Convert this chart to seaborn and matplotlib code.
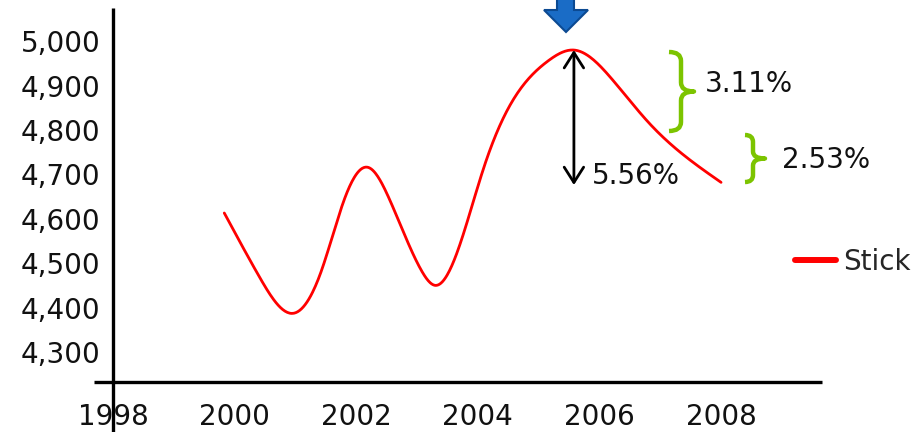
import numpy as np
import pandas as pd
import matplotlib
matplotlib.use("Agg")
import matplotlib.pyplot as plt
import matplotlib.transforms as mtransforms
from matplotlib.path import Path
from matplotlib.patches import PathPatch, Polygon
from matplotlib.ticker import FuncFormatter
import seaborn as sns

# Series knots (year, value) along the "Stick" curve
years = [1999.83, 2000.40, 2000.96, 2001.42, 2001.80, 2002.19, 2002.54, 2003.07,
         2003.30, 2003.69, 2004.10, 2004.53, 2005.15, 2005.58, 2006.19, 2006.80,
         2007.56, 2008.00]
values = [4613, 4471, 4387, 4480, 4642, 4716, 4646, 4484,
          4450, 4536, 4716, 4856, 4955, 4980, 4917, 4818,
          4725, 4682]
series_name = "Stick"

x_ticks = [1998, 2000, 2002, 2004, 2006, 2008]
y_ticks = [4300, 4400, 4500, 4600, 4700, 4800, 4900, 5000]

drop_labels = ["5.56%", "3.11%", "2.53%"]


def spline_curve(xs, ys, n=30):
    """Natural cubic spline through the knots, for a smooth drawn line."""
    x = np.asarray(xs, float)
    y = np.asarray(ys, float)
    m = len(x)
    h = np.diff(x)
    A = np.zeros((m, m))
    b = np.zeros(m)
    A[0, 0] = A[-1, -1] = 1.0
    for i in range(1, m - 1):
        A[i, i - 1] = h[i - 1]
        A[i, i] = 2 * (h[i - 1] + h[i])
        A[i, i + 1] = h[i]
        b[i] = 6 * ((y[i + 1] - y[i]) / h[i] - (y[i] - y[i - 1]) / h[i - 1])
    M = np.linalg.solve(A, b)
    ox, oy = [], []
    for i in range(m - 1):
        t = np.linspace(x[i], x[i + 1], n, endpoint=False)
        a = x[i + 1] - t
        c = t - x[i]
        s = (M[i] * a ** 3 + M[i + 1] * c ** 3) / (6 * h[i]) \
            + (y[i] / h[i] - M[i] * h[i] / 6) * a \
            + (y[i + 1] / h[i] - M[i + 1] * h[i] / 6) * c
        ox.append(t)
        oy.append(s)
    ox.append([x[-1]])
    oy.append([y[-1]])
    return np.concatenate(ox), np.concatenate(oy)


sns.set_theme(style="white")
plt.rcParams["font.family"] = ["DejaVu Sans"]

W, H = 924, 432
fig = plt.figure(figsize=(W / 100, H / 100), dpi=100)
ax = fig.add_axes([113 / W, 50 / H, 709 / W, 374 / H])

sx, sy = spline_curve(years, values)
df = pd.DataFrame({"year": sx, "value": sy})
sns.lineplot(data=df, x="year", y="value", sort=False, estimator=None,
             color="#ff0000", lw=2, label=series_name, ax=ax)

ax.set_xlim(1998, 2009.66)
ax.set_ylim(4232.4, 5074.7)
ax.set_xticks(x_ticks)
ax.set_yticks(y_ticks)
ax.yaxis.set_major_formatter(FuncFormatter(lambda v, p: f"{v:,.0f}"))
ax.set_xlabel("")
ax.set_ylabel("")
ax.tick_params(axis="both", length=0, labelsize=20, labelcolor="#111111")
ax.tick_params(axis="x", pad=15)
ax.tick_params(axis="y", pad=9)
for s in ax.spines.values():
    s.set_visible(False)

# Axis lines, crossing slightly past each other
ax.plot([0, 0], [-0.134, 1], transform=ax.transAxes, color="black", lw=2.4,
        clip_on=False, solid_capstyle="butt")
ax.plot([-0.027, 1], [0, 0], transform=ax.transAxes, color="black", lw=2.4,
        clip_on=False, solid_capstyle="butt")

# Legend to the right of the plot
leg = ax.legend(frameon=False, loc="center left",
                bbox_to_anchor=(795 / W, 1 - 262 / H), bbox_transform=fig.transFigure,
                borderaxespad=0, borderpad=0, handlelength=1.48, handletextpad=0.25,
                fontsize=20)
leg.get_lines()[0].set_linewidth(4.3)

# Pixel-space transform (origin top-left) for the annotations
px = mtransforms.Affine2D().scale(1 / W, -1 / H).translate(0, 1) + fig.transFigure

# Peak marker arrow
arrow = Polygon([(557, -2), (557, 10), (544, 10), (566, 32), (588, 10), (574, 10), (574, -2)],
                closed=True, facecolor="#1a6cc6", edgecolor="#0c4a92", lw=1.5,
                transform=px, clip_on=False)
fig.add_artist(arrow)

# Double-headed arrow from the peak down
peak_year = years[int(np.argmax(values))]
peak_val = max(values)
ax.annotate("", xy=(peak_year, 4676), xytext=(peak_year, peak_val),
            arrowprops=dict(arrowstyle="<->,head_length=0.55,head_width=0.35",
                            color="black", lw=2, shrinkA=0, shrinkB=0,
                            mutation_scale=20))


def brace(xl, y0, y1, xv, xt, h=9):
    ym = (y0 + y1) / 2
    verts = [(xl, y0), (xv, y0), (xv, y0 + h),
             (xv, ym - h),
             (xv, ym), (xt, ym),
             (xv, ym), (xv, ym + h),
             (xv, y1 - h),
             (xv, y1), (xl, y1)]
    codes = [Path.MOVETO, Path.CURVE3, Path.CURVE3,
             Path.LINETO,
             Path.CURVE3, Path.CURVE3,
             Path.CURVE3, Path.CURVE3,
             Path.LINETO,
             Path.CURVE3, Path.CURVE3]
    p = PathPatch(Path(verts, codes), facecolor="none", edgecolor="#7cc400",
                  lw=3.2, transform=px, clip_on=False, capstyle="butt", joinstyle="round")
    fig.add_artist(p)


brace(669, 52, 131, 681, 694)
brace(745, 135, 182, 753, 765, h=7)

txt_kw = dict(transform=px, fontsize=20, color="#111111", va="center", ha="left")
fig.text(592, 176, drop_labels[0], **txt_kw)
fig.text(705, 84, drop_labels[1], **txt_kw)
fig.text(782, 160, drop_labels[2], **txt_kw)

fig.savefig("out.png", dpi=100)
